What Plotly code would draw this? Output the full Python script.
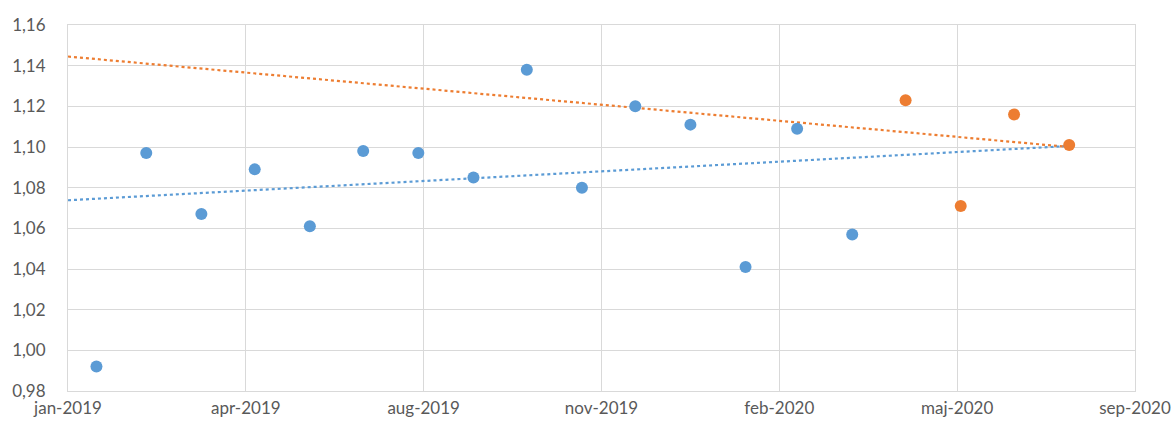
import plotly.graph_objects as go

# ---- data ----
blue_dates = ["2019-01-31", "2019-02-28", "2019-03-31", "2019-04-30", "2019-05-31",
              "2019-06-30", "2019-07-31", "2019-08-31", "2019-09-30", "2019-10-31",
              "2019-11-30", "2019-12-31", "2020-01-31", "2020-02-29", "2020-03-31"]
blue_values = [0.992, 1.097, 1.067, 1.089, 1.061,
               1.098, 1.097, 1.085, 1.138, 1.080,
               1.120, 1.111, 1.041, 1.109, 1.057]

orange_dates = ["2020-04-30", "2020-05-31", "2020-06-30", "2020-07-31"]
orange_values = [1.123, 1.071, 1.116, 1.101]

# linear trendlines (as drawn in the reference)
trend_dates = ["2019-01-15", "2020-07-31"]
blue_trend_values = [1.0738, 1.1005]
orange_trend_values = [1.1445, 1.1000]

tick_dates = ["2019-01-15", "2019-04-25", "2019-08-03", "2019-11-11",
              "2020-02-19", "2020-05-29", "2020-09-06"]
tick_labels = ["jan-2019", "apr-2019", "aug-2019", "nov-2019",
               "feb-2020", "maj-2020", "sep-2020"]
y_ticks = [0.98, 1.00, 1.02, 1.04, 1.06, 1.08, 1.10, 1.12, 1.14, 1.16]

BLUE = "#5B9BD5"
ORANGE = "#ED7D31"
GRID = "#D9D9D9"
TEXT = "#595959"

fig = go.Figure()
fig.add_trace(go.Scatter(x=trend_dates, y=orange_trend_values, mode="lines",
                         line=dict(color=ORANGE, width=2.2, dash="dot"), hoverinfo="skip"))
fig.add_trace(go.Scatter(x=trend_dates, y=blue_trend_values, mode="lines",
                         line=dict(color=BLUE, width=2.2, dash="dot"), hoverinfo="skip"))
fig.add_trace(go.Scatter(x=blue_dates, y=blue_values, mode="markers",
                         marker=dict(color=BLUE, size=12)))
fig.add_trace(go.Scatter(x=orange_dates, y=orange_values, mode="markers",
                         marker=dict(color=ORANGE, size=12)))

fig.update_layout(
    width=1175, height=426,
    margin=dict(l=68, r=40, t=25, b=35, autoexpand=False),
    paper_bgcolor="white", plot_bgcolor="white",
    showlegend=False,
    separators=",.",
    font=dict(family="Lato, Open Sans, sans-serif", size=17, color=TEXT),
)
fig.update_xaxes(type="date", range=[tick_dates[0], tick_dates[-1]],
                 tickmode="array", tickvals=tick_dates, ticktext=tick_labels,
                 showgrid=True, gridcolor=GRID, gridwidth=1,
                 showline=True, linecolor=GRID, linewidth=1, mirror=True,
                 ticks="", zeroline=False, ticklabelstandoff=2, automargin=False)
fig.update_yaxes(range=[0.98, 1.16], tickmode="array", tickvals=y_ticks,
                 tickformat=".2f",
                 showgrid=True, gridcolor=GRID, gridwidth=1,
                 showline=True, linecolor=GRID, linewidth=1, mirror=True,
                 ticks="", zeroline=False, ticklabelstandoff=18, automargin=False)

fig.write_html("out.html",
               config={"displayModeBar": False},
               post_script="document.body.style.margin='0';document.body.style.overflow='hidden';")
